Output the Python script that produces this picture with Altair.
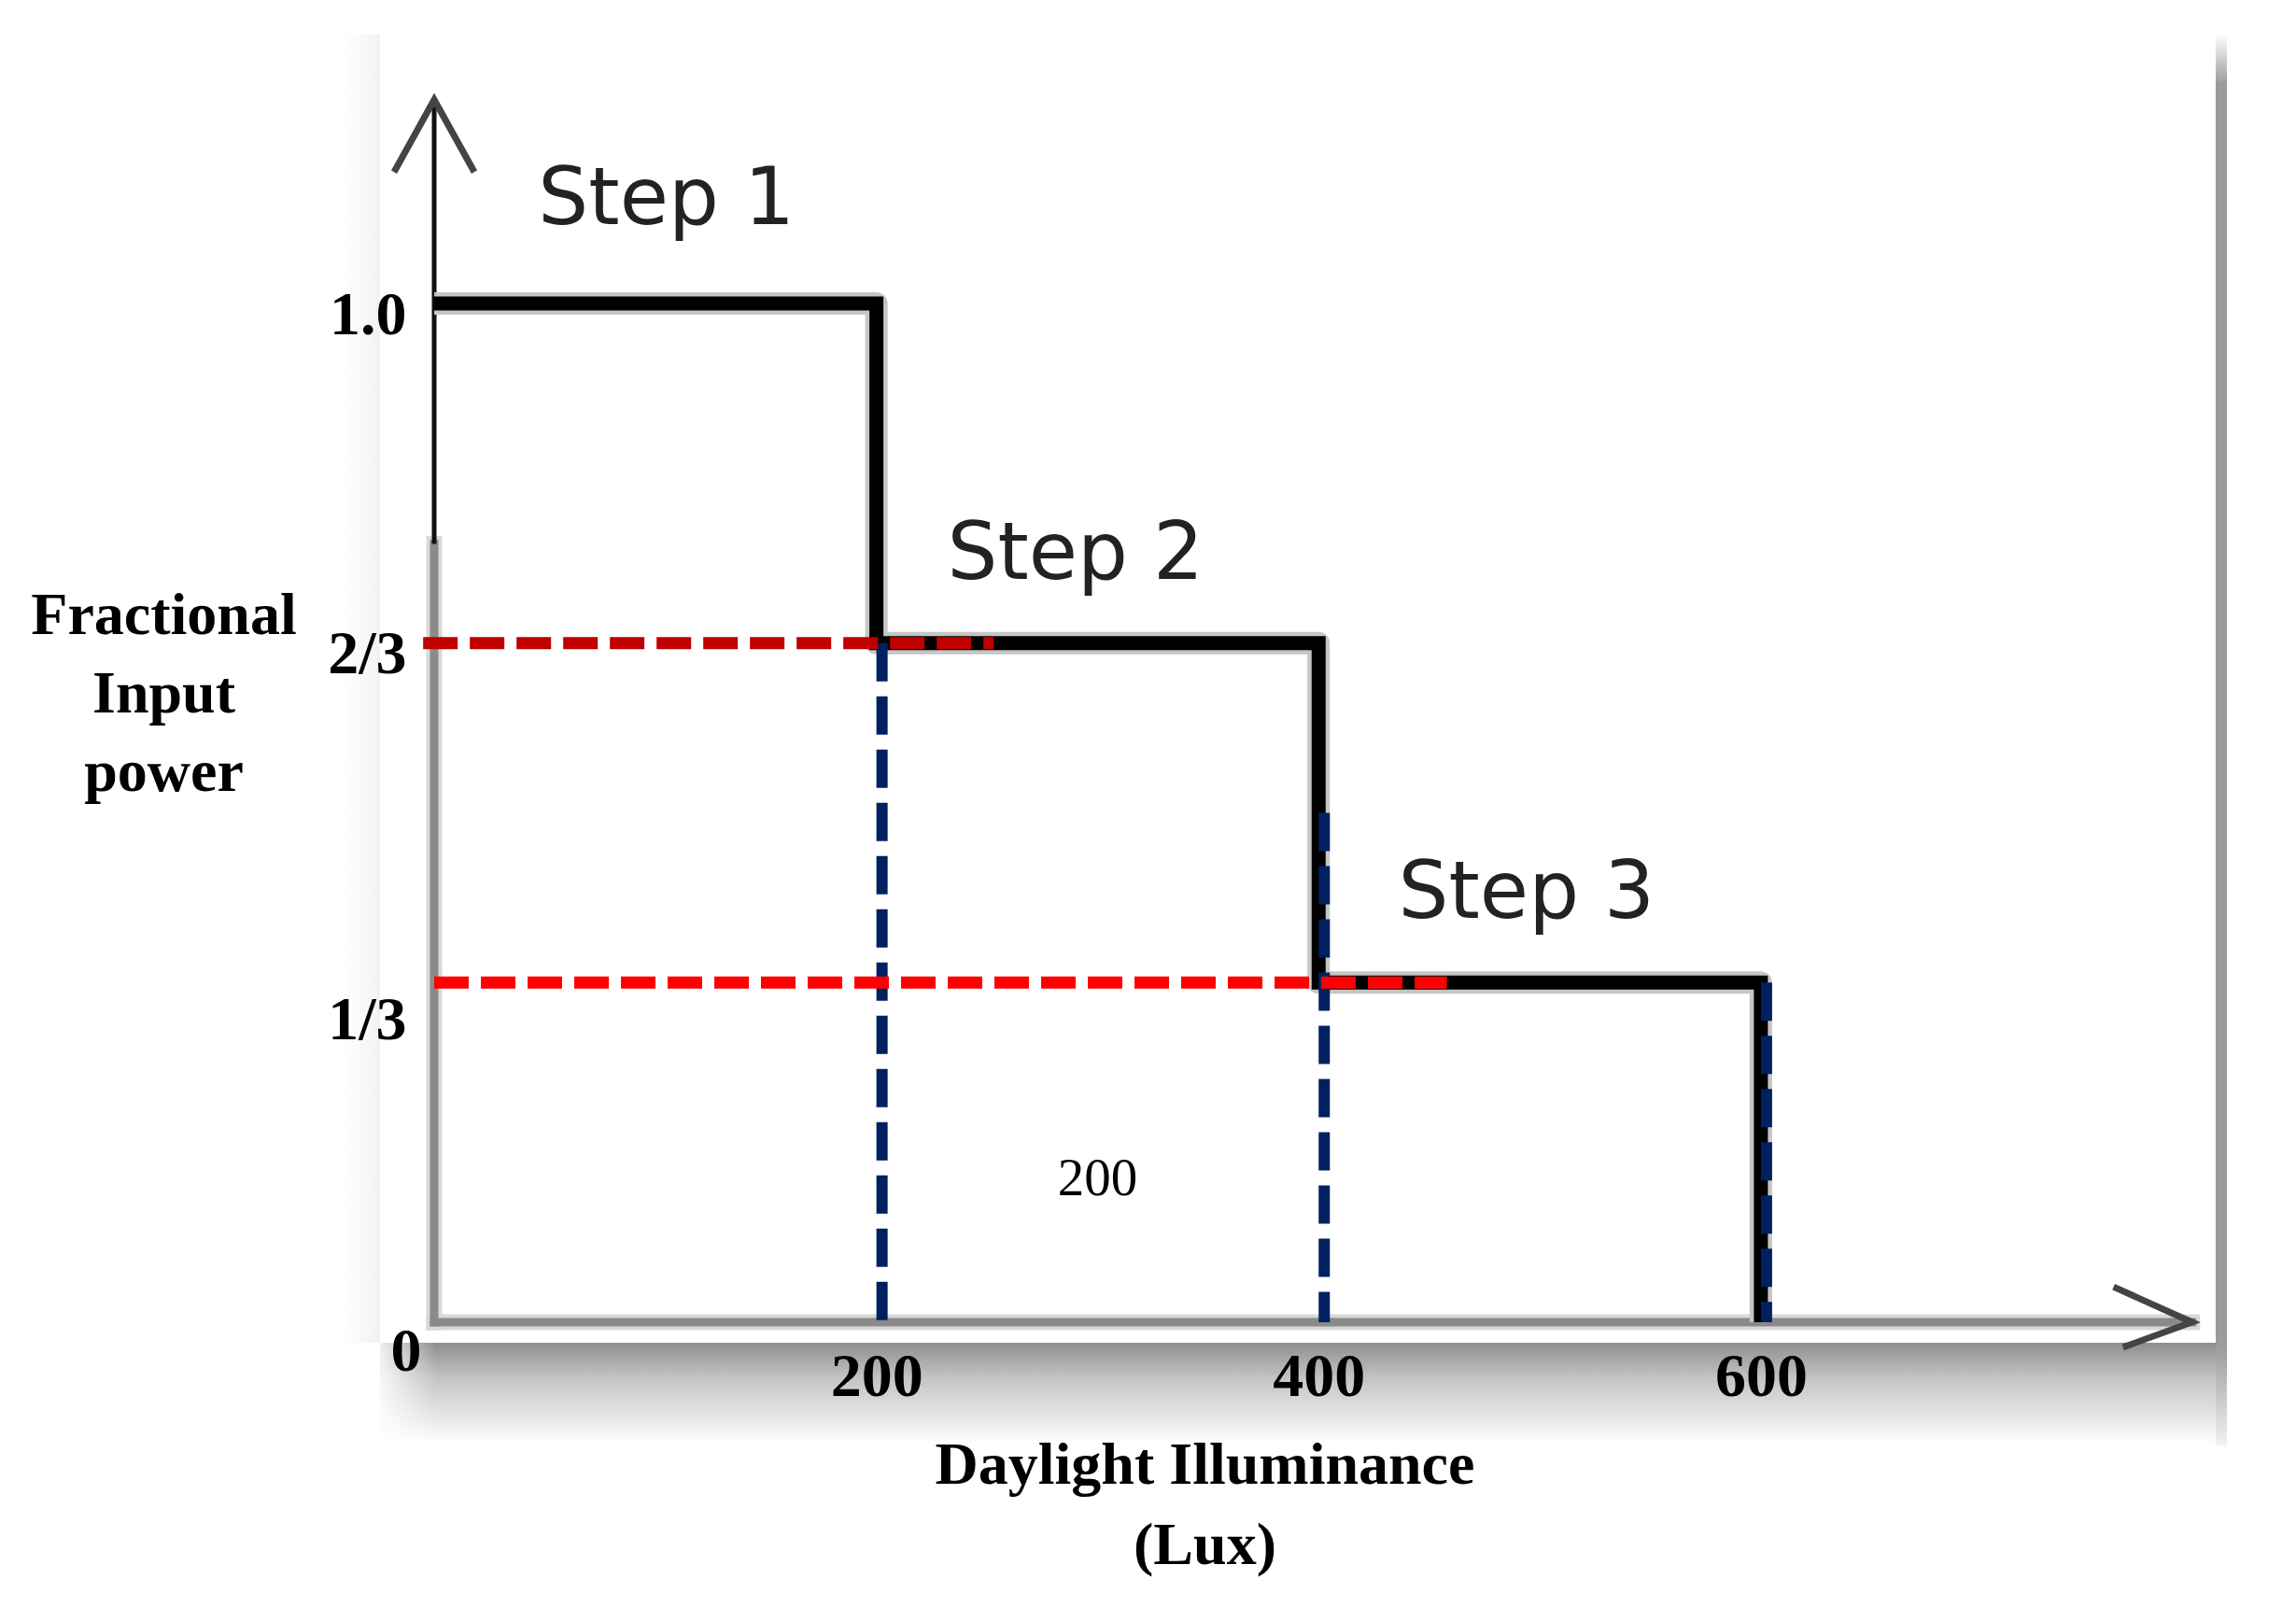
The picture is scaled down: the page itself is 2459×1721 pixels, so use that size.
import altair as alt
import pandas as pd

# ---------------- data ----------------
illuminance = [0, 200, 400, 600]          # Lux, step edges
fractional_power = [1.0, 2 / 3, 1 / 3, 0.0]

x_tick_values = [200, 400, 600]
y_tick_values = [1 / 3, 2 / 3, 1.0]
y_tick_labels = ["1/3", "2/3", "1.0"]

step_names = ["Step 1", "Step 2", "Step 3"]
step_label_x = [105, 290, 494]
step_label_y = [1.078, 0.730, 0.397]

guide_red_y = [2 / 3, 1 / 3]
guide_red_x_start = [-5, 0]
guide_red_x_end = [253, 458]
guide_red_name = ["two_thirds", "one_third"]

guide_blue_x = [200, 400, 600]
guide_blue_top = [2 / 3, 0.5, 1 / 3]

annotation_text = ["200"]
annotation_x = [300]
annotation_y = [0.125]

axis_x_end = 795      # end of the drawn x axis arrow (Lux)
axis_y_end = 1.2      # end of the drawn y axis arrow
axis_y_grey_top = 0.764

# ---------------- layout ----------------
W, H = 1966, 1401
SERIF = "Liberation Serif"

xscale = alt.Scale(domain=[-24.5, 805.7], nice=False, zero=False)
yscale = alt.Scale(domain=[-0.0202, 1.264], nice=False, zero=False)

label_expr = "[''," + ",".join("'%s'" % t for t in y_tick_labels) + "][round(datum.value*3)]"

xaxis = alt.Axis(
    values=x_tick_values, title=["Daylight Illuminance", "(Lux)"],
    labelFont=SERIF, labelFontWeight="bold", labelFontSize=66, labelColor="black",
    labelBaseline="alphabetic", labelPadding=56, ticks=False, tickSize=0,
    domain=False, grid=False, labelFlush=False, labelOverlap=False,
    titleFont=SERIF, titleFontWeight="bold", titleFontSize=64, titleColor="black",
    titleX=883, titleY=150, titleAlign="center", titleBaseline="alphabetic",
    titleLineHeight=86, titleAnchor="start", zindex=1,
)
yaxis = alt.Axis(
    values=y_tick_values, labelExpr=label_expr,
    title=["Fractional", "Input", "power"], titleAngle=0,
    titleX=-262, titleY=641, titleAlign="center", titleBaseline="alphabetic",
    titleLineHeight=84, titleAnchor="start",
    titleFont=SERIF, titleFontWeight="bold", titleFontSize=64, titleColor="black",
    labelFont=SERIF, labelFontWeight="bold", labelFontSize=66, labelColor="black",
    labelBaseline="alphabetic",
    labelOffset={"condition": {"test": "datum.value < 0.5", "value": 60}, "value": 32},
    labelPadding=2, labelAlign="right",
    offset=-30, ticks=False, tickSize=0, domain=False, grid=False,
    labelFlush=False, labelOverlap=False, zindex=1,
)


def X(f):
    return alt.X(f, type="quantitative", scale=xscale, axis=xaxis)


def Y(f):
    return alt.Y(f, type="quantitative", scale=yscale, axis=yaxis)


# ---------------- frame decoration ----------------
left_band = alt.Chart(pd.DataFrame({"k": [0]})).mark_rect(
    fill=alt.LinearGradient(gradient="linear", x1=0, x2=1, y1=0, y2=0,
                            stops=[alt.GradientStop(color="#ffffff", offset=0),
                                   alt.GradientStop(color="#f2f2f2", offset=1)])
).encode(x=alt.value(-40), x2=alt.value(0), y=alt.value(0), y2=alt.value(H))

shadow = alt.Chart(pd.DataFrame({"k": [0]})).mark_rect(
    fill=alt.LinearGradient(gradient="linear", x1=0, x2=0, y1=0, y2=1,
                            stops=[alt.GradientStop(color="#8e8e8e", offset=0),
                                   alt.GradientStop(color="#c4c4c4", offset=0.35),
                                   alt.GradientStop(color="#ffffff", offset=1)])
).encode(x=alt.value(0), x2=alt.value(W + 12), y=alt.value(H), y2=alt.value(H + 108))

shadow_fade = alt.Chart(pd.DataFrame({"k": [0]})).mark_rect(
    fill=alt.LinearGradient(gradient="linear", x1=0, x2=1, y1=0, y2=0,
                            stops=[alt.GradientStop(color="rgba(255,255,255,1)", offset=0),
                                   alt.GradientStop(color="rgba(255,255,255,0)", offset=1)])
).encode(x=alt.value(-10), x2=alt.value(60), y=alt.value(H), y2=alt.value(H + 110))

right_border = alt.Chart(pd.DataFrame({"k": [0]})).mark_rect(
    fill=alt.LinearGradient(gradient="linear", x1=0, x2=0, y1=0, y2=1,
                            stops=[alt.GradientStop(color="#ffffff", offset=0),
                                   alt.GradientStop(color="#9b9b9b", offset=0.035),
                                   alt.GradientStop(color="#9b9b9b", offset=0.93),
                                   alt.GradientStop(color="#f2f2f2", offset=1)])
).encode(x=alt.value(W), x2=alt.value(W + 12), y=alt.value(0), y2=alt.value(H + 110))

# ---------------- axis lines & arrows ----------------
ax_df = pd.DataFrame({
    "x": [0, 0], "x2": [axis_x_end, 0],
    "y": [0, 0], "y2": [0, axis_y_grey_top],
})
axis_halo = alt.Chart(ax_df).mark_rule(color="#d8d8d8", strokeWidth=17, strokeCap="square").encode(
    x=X("x"), x2="x2", y=Y("y"), y2="y2")
axis_grey = alt.Chart(ax_df).mark_rule(color="#8a8a8a", strokeWidth=9, strokeCap="square").encode(
    x=X("x"), x2="x2", y=Y("y"), y2="y2")

yup_df = pd.DataFrame({"x": [0], "y": [axis_y_grey_top], "y2": [axis_y_end]})
axis_black = alt.Chart(yup_df).mark_rule(color="#111111", strokeWidth=5).encode(
    x=X("x"), y=Y("y"), y2="y2")

arrow_y = alt.Chart(pd.DataFrame({"x": [0], "y": [axis_y_end]})).mark_point(
    shape="M-1,1.8L0,0L1,1.8", filled=False, size=7396, stroke="#444444",
    strokeWidth=7, opacity=1, strokeJoin="miter").encode(x=X("x"), y=Y("y"))
arrow_x = alt.Chart(pd.DataFrame({"x": [axis_x_end], "y": [0]})).mark_point(
    shape="M-1,-0.45L0,0L-0.88,0.32", filled=False, size=28224, stroke="#444444",
    strokeWidth=7, opacity=1, strokeJoin="miter").encode(x=X("x"), y=Y("y"))

# ---------------- step line ----------------
step_df = pd.DataFrame({"x": illuminance, "y": fractional_power})
step_halo = alt.Chart(step_df).mark_line(
    interpolate="step-after", color="#c6c6c6", strokeWidth=24, strokeJoin="round").encode(
    x=X("x"), y=Y("y"))
step_line = alt.Chart(step_df).mark_line(
    interpolate="step-after", color="#000000", strokeWidth=15, strokeJoin="miter").encode(
    x=X("x"), y=Y("y"))

# ---------------- guides ----------------
blue_df = pd.DataFrame({"x": guide_blue_x, "y": guide_blue_top, "y2": [0] * len(guide_blue_x)})
blue = alt.Chart(blue_df).mark_rule(
    color="#002060", strokeWidth=12, strokeDash=[41, 16], xOffset=6).encode(
    x=X("x"), y=Y("y"), y2="y2")

red_df = pd.DataFrame({"x": guide_red_x_start, "x2": guide_red_x_end,
                       "y": guide_red_y, "name": guide_red_name})
red = alt.Chart(red_df).mark_rule(strokeWidth=13, strokeDash=[37, 13]).encode(
    x=X("x"), x2="x2", y=Y("y"),
    color=alt.Color("name:N", scale=alt.Scale(domain=guide_red_name,
                                              range=["#C00000", "#FF0000"]), legend=None))

# ---------------- texts ----------------
steps_df = pd.DataFrame({"x": step_label_x, "y": step_label_y, "t": step_names})
steps = alt.Chart(steps_df).mark_text(
    font="DejaVu Sans", fontSize=85, color="#222222", align="center", baseline="alphabetic").encode(
    x=X("x"), y=Y("y"), text="t:N")

ann_df = pd.DataFrame({"x": annotation_x, "y": annotation_y, "t": annotation_text})
ann = alt.Chart(ann_df).mark_text(
    font=SERIF, fontSize=57, color="black", align="center", baseline="alphabetic").encode(
    x=X("x"), y=Y("y"), text="t:N")

zero_df = pd.DataFrame({"x": [illuminance[0]], "y": [0], "t": ["0"]})
zero = alt.Chart(zero_df).mark_text(
    font=SERIF, fontSize=66, fontWeight="bold", color="black", align="center",
    baseline="alphabetic", dx=-30, dy=52).encode(x=X("x"), y=Y("y"), text="t:N")

chart = alt.layer(
    left_band, shadow, shadow_fade, right_border,
    axis_halo, axis_grey, axis_black, arrow_y, arrow_x,
    step_halo, step_line, blue, red, steps, ann, zero,
).properties(
    width=W, height=H,
    autosize=alt.AutoSizeParams(type="none"),
    padding={"left": 399, "top": 29, "right": 60, "bottom": 272},
).configure_view(stroke=None)

chart.save("out.html", embed_options={"renderer": "svg", "actions": False})
